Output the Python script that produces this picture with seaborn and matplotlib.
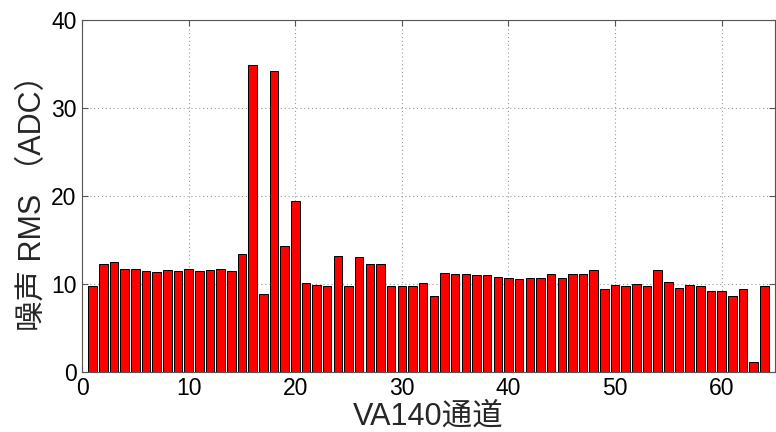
import matplotlib
matplotlib.use("Agg")
import matplotlib.pyplot as plt
import seaborn as sns
import pandas as pd

channels = list(range(1, 65))
rms = [9.8, 12.2, 12.5, 11.7, 11.7, 11.5, 11.3, 11.6, 11.5, 11.7,
       11.4, 11.6, 11.7, 11.5, 13.4, 34.9, 8.8, 34.2, 14.3, 19.4,
       10.1, 9.9, 9.8, 13.2, 9.8, 13.1, 12.3, 12.3, 9.7, 9.8,
       9.8, 10.1, 8.6, 11.2, 11.1, 11.1, 11.0, 11.0, 10.8, 10.7,
       10.6, 10.7, 10.7, 11.1, 10.7, 11.1, 11.1, 11.6, 9.4, 9.9,
       9.7, 10.0, 9.7, 11.6, 10.2, 9.5, 9.9, 9.7, 9.2, 9.2,
       8.6, 9.4, 1.1, 9.8]
xticks = [0, 10, 20, 30, 40, 50, 60]
yticks = [0, 10, 20, 30, 40]

sns.set_style("white")
plt.rcParams['font.family'] = ['Liberation Sans', 'Noto Sans CJK SC', 'DejaVu Sans']

df = pd.DataFrame({"ch": channels, "rms": rms})

fig = plt.figure(figsize=(7.76, 4.32), dpi=100)
ax = fig.add_axes([0.1057, 0.1396, 0.893, 0.814])
sns.barplot(data=df, x="ch", y="rms", native_scale=True, width=0.8,
            color="#ff0000", saturation=1, edgecolor="black", linewidth=0.7,
            ax=ax, zorder=3)
ax.set_xlim(0, 65)
ax.set_ylim(0, 40)
ax.set_xticks(xticks)
ax.set_yticks(yticks)
ax.set_xticklabels([str(t) for t in xticks])
ax.set_yticklabels([str(t) for t in yticks])
ax.grid(True, linestyle=(0, (1, 2.5)), color="#999999", linewidth=0.8, zorder=0)
ax.set_axisbelow(True)
ax.tick_params(direction="in", length=4, width=0.8, colors="#555555",
               labelcolor="black", labelsize=16.5, top=True, right=True,
               bottom=True, left=True, pad=4)
for s in ax.spines.values():
    s.set_color("#555555")
    s.set_linewidth(0.8)
    s.set_visible(True)
ax.set_xlabel("VA140通道", fontsize=22, labelpad=1)
ax.set_ylabel("噪声 RMS （ADC）", fontsize=22, labelpad=2)
fig.savefig("out.png", dpi=100)
